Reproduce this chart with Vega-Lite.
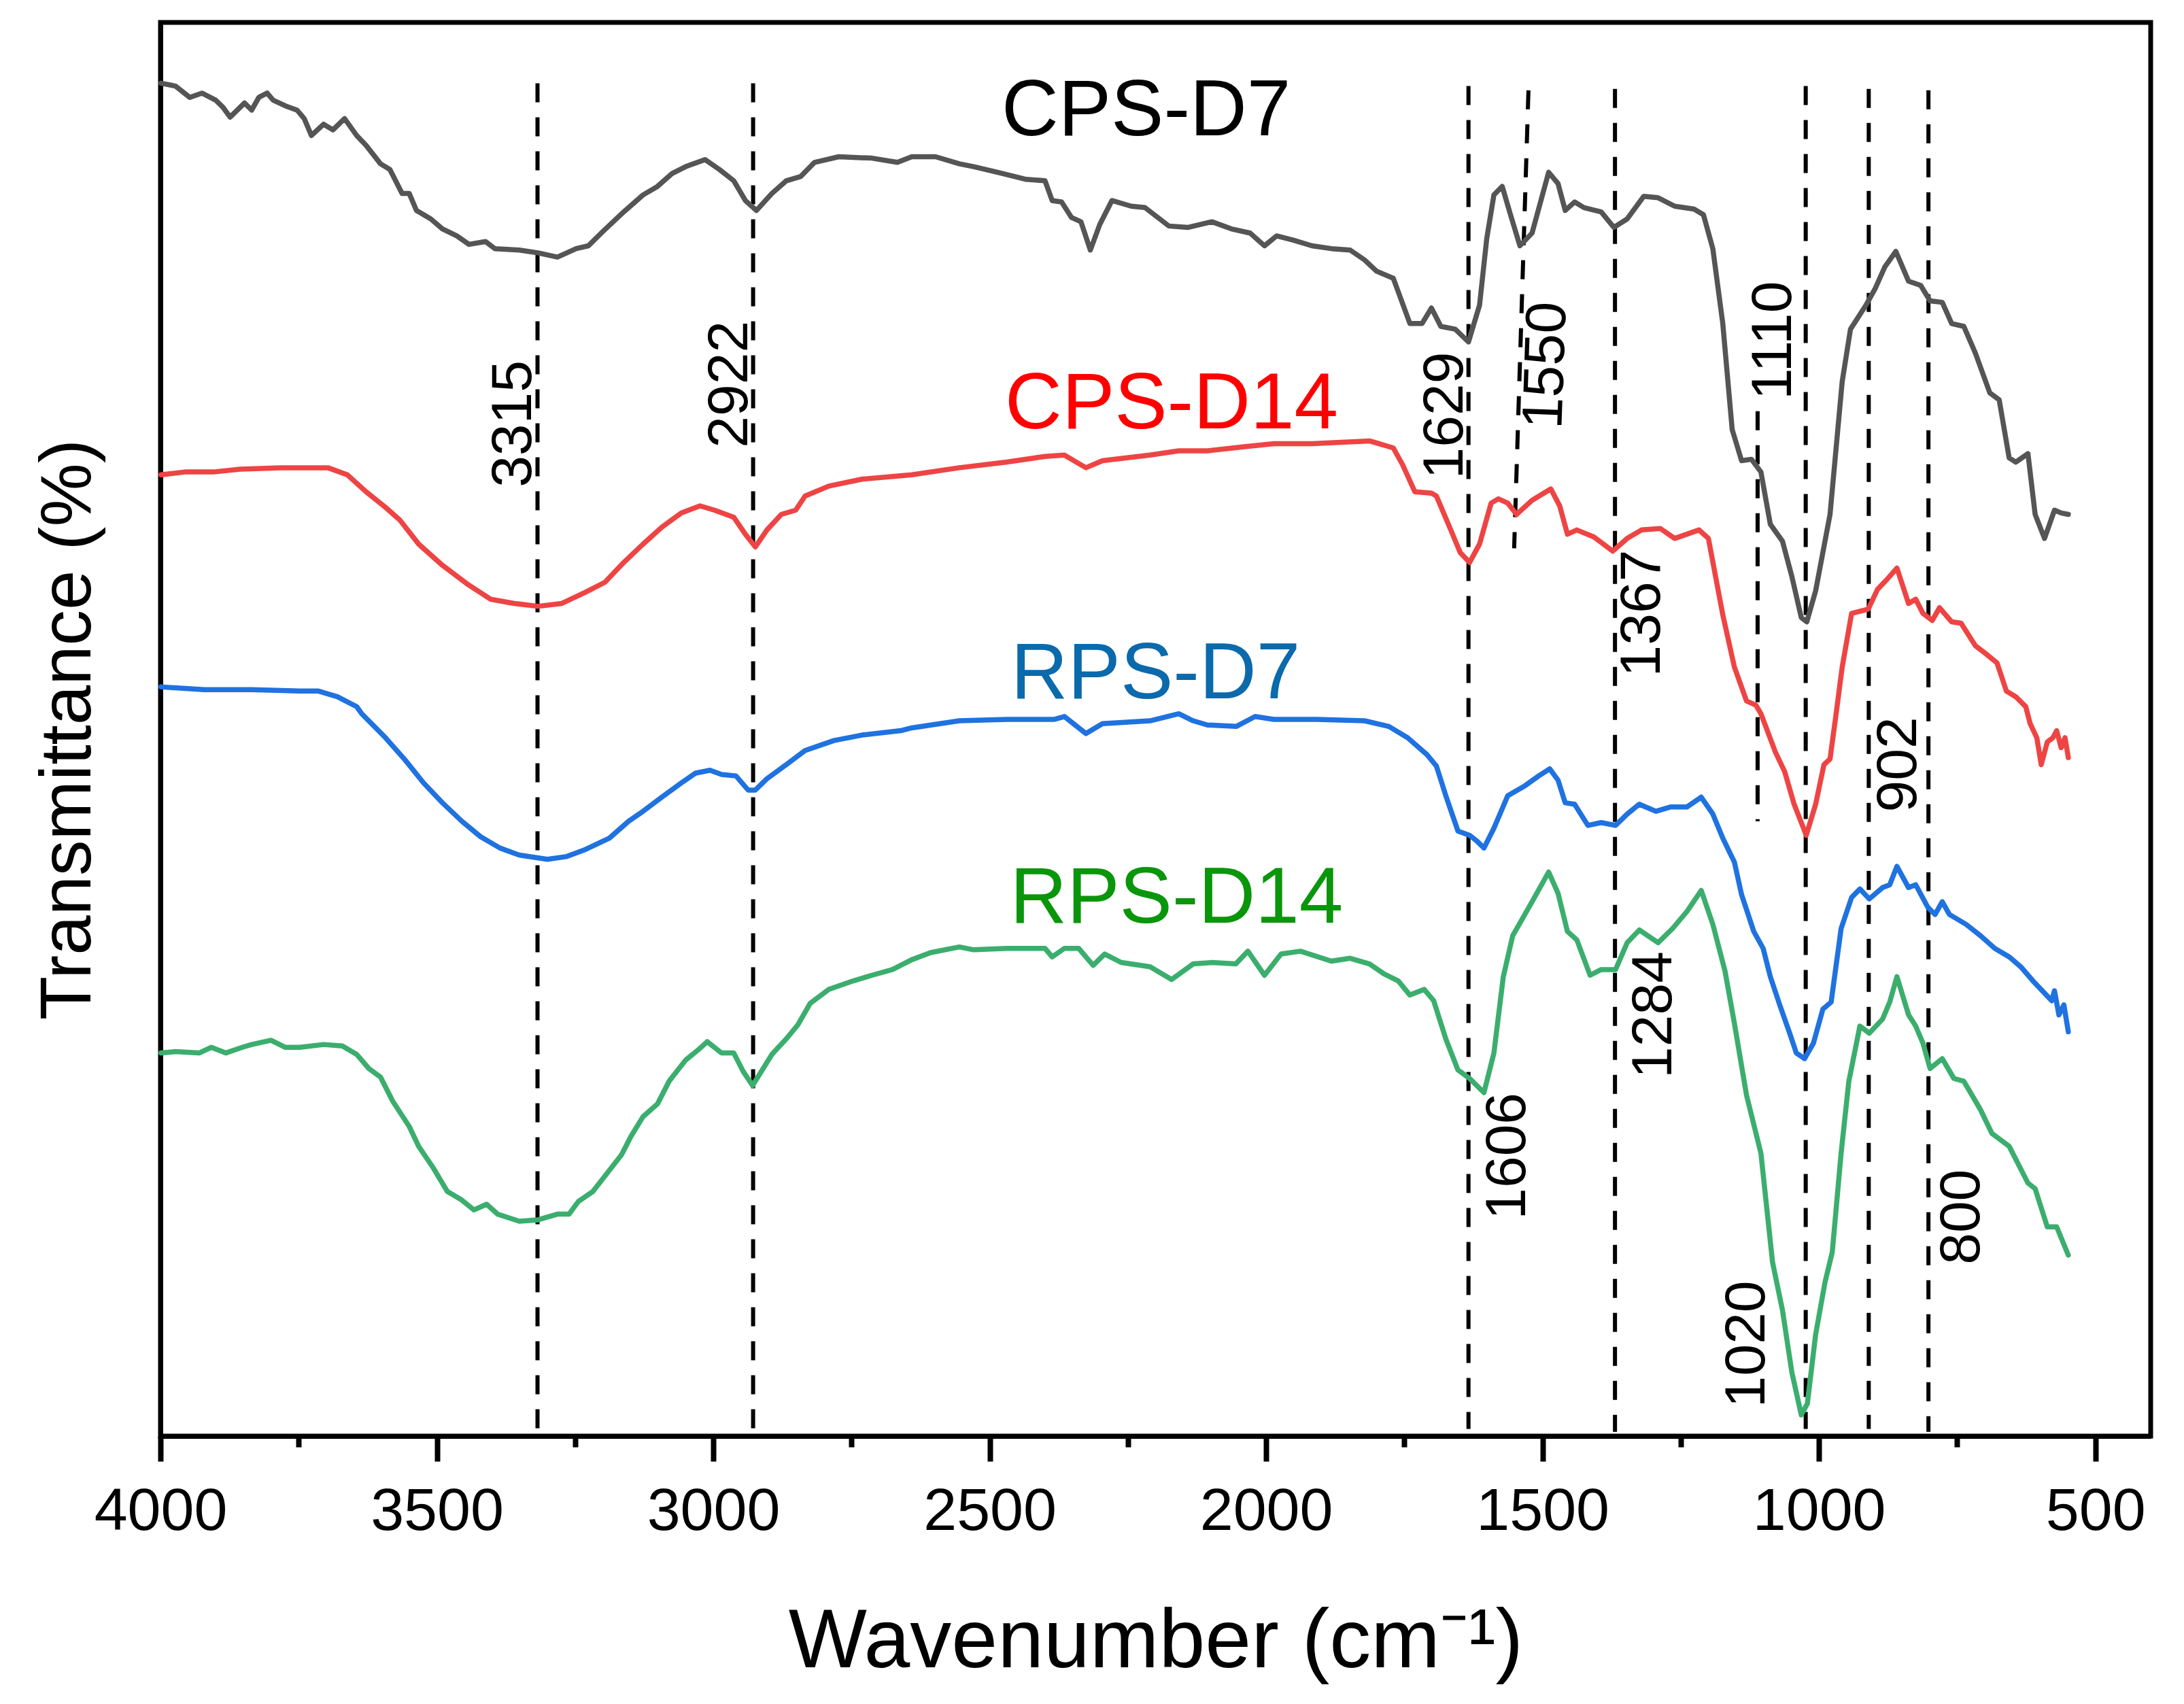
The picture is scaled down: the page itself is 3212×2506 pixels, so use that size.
{
  "$schema": "https://vega.github.io/schema/vega-lite/v6.json",
  "description": "FTIR spectra of CPS and RPS samples",
  "width": 2927,
  "height": 2079,
  "autosize": {"type": "none"},
  "padding": {"left": 236, "top": 33, "right": 49, "bottom": 394},
  "background": "white",
  "config": {
    "font": "Liberation Sans",
    "view": {"stroke": "black", "strokeWidth": 7},
    "axis": {"grid": false, "titleFontWeight": "normal", "labelColor": "black", "titleColor": "black", "domainColor": "black", "tickColor": "black"}
  },
  "datasets": {
    "spectra": [
      {"s":"CPS-D7","w":3999,"t":95.7},{"s":"CPS-D7","w":3973,"t":95.5},{"s":"CPS-D7","w":3947,"t":94.7},{"s":"CPS-D7","w":3925,"t":95.0},{"s":"CPS-D7","w":3900,"t":94.5},{"s":"CPS-D7","w":3887,"t":94.0},{"s":"CPS-D7","w":3874,"t":93.3},{"s":"CPS-D7","w":3848,"t":94.3},{"s":"CPS-D7","w":3835,"t":93.8},{"s":"CPS-D7","w":3822,"t":94.7},{"s":"CPS-D7","w":3807,"t":95.0},{"s":"CPS-D7","w":3796,"t":94.5},{"s":"CPS-D7","w":3774,"t":94.1},{"s":"CPS-D7","w":3753,"t":93.8},{"s":"CPS-D7","w":3740,"t":93.2},{"s":"CPS-D7","w":3727,"t":92.0},{"s":"CPS-D7","w":3705,"t":92.8},{"s":"CPS-D7","w":3688,"t":92.4},{"s":"CPS-D7","w":3667,"t":93.2},{"s":"CPS-D7","w":3645,"t":92.0},{"s":"CPS-D7","w":3628,"t":91.3},{"s":"CPS-D7","w":3602,"t":90.0},{"s":"CPS-D7","w":3585,"t":89.6},{"s":"CPS-D7","w":3563,"t":87.9},{"s":"CPS-D7","w":3550,"t":87.9},{"s":"CPS-D7","w":3537,"t":86.7},{"s":"CPS-D7","w":3511,"t":86.1},{"s":"CPS-D7","w":3490,"t":85.4},{"s":"CPS-D7","w":3464,"t":84.9},{"s":"CPS-D7","w":3442,"t":84.3},{"s":"CPS-D7","w":3412,"t":84.5},{"s":"CPS-D7","w":3395,"t":84.0},{"s":"CPS-D7","w":3351,"t":83.9},{"s":"CPS-D7","w":3317,"t":83.7},{"s":"CPS-D7","w":3282,"t":83.4},{"s":"CPS-D7","w":3248,"t":84.0},{"s":"CPS-D7","w":3226,"t":84.2},{"s":"CPS-D7","w":3200,"t":85.2},{"s":"CPS-D7","w":3162,"t":86.6},{"s":"CPS-D7","w":3127,"t":87.8},{"s":"CPS-D7","w":3101,"t":88.4},{"s":"CPS-D7","w":3075,"t":89.3},{"s":"CPS-D7","w":3050,"t":89.8},{"s":"CPS-D7","w":3015,"t":90.3},{"s":"CPS-D7","w":2989,"t":89.6},{"s":"CPS-D7","w":2963,"t":88.8},{"s":"CPS-D7","w":2942,"t":87.4},{"s":"CPS-D7","w":2922,"t":86.7},{"s":"CPS-D7","w":2894,"t":87.9},{"s":"CPS-D7","w":2868,"t":88.8},{"s":"CPS-D7","w":2842,"t":89.1},{"s":"CPS-D7","w":2817,"t":90.1},{"s":"CPS-D7","w":2773,"t":90.5},{"s":"CPS-D7","w":2713,"t":90.4},{"s":"CPS-D7","w":2667,"t":90.1},{"s":"CPS-D7","w":2641,"t":90.5},{"s":"CPS-D7","w":2598,"t":90.5},{"s":"CPS-D7","w":2555,"t":90.0},{"s":"CPS-D7","w":2529,"t":89.8},{"s":"CPS-D7","w":2486,"t":89.4},{"s":"CPS-D7","w":2434,"t":88.9},{"s":"CPS-D7","w":2400,"t":88.8},{"s":"CPS-D7","w":2387,"t":87.4},{"s":"CPS-D7","w":2370,"t":87.3},{"s":"CPS-D7","w":2352,"t":86.2},{"s":"CPS-D7","w":2335,"t":85.9},{"s":"CPS-D7","w":2318,"t":83.9},{"s":"CPS-D7","w":2301,"t":85.7},{"s":"CPS-D7","w":2279,"t":87.4},{"s":"CPS-D7","w":2244,"t":87.0},{"s":"CPS-D7","w":2219,"t":86.9},{"s":"CPS-D7","w":2176,"t":85.6},{"s":"CPS-D7","w":2141,"t":85.5},{"s":"CPS-D7","w":2098,"t":85.9},{"s":"CPS-D7","w":2063,"t":85.4},{"s":"CPS-D7","w":2029,"t":85.1},{"s":"CPS-D7","w":2003,"t":84.2},{"s":"CPS-D7","w":1981,"t":84.9},{"s":"CPS-D7","w":1951,"t":84.6},{"s":"CPS-D7","w":1917,"t":84.2},{"s":"CPS-D7","w":1882,"t":84.0},{"s":"CPS-D7","w":1848,"t":83.9},{"s":"CPS-D7","w":1822,"t":83.2},{"s":"CPS-D7","w":1800,"t":82.4},{"s":"CPS-D7","w":1770,"t":81.9},{"s":"CPS-D7","w":1740,"t":78.7},{"s":"CPS-D7","w":1718,"t":78.7},{"s":"CPS-D7","w":1701,"t":79.8},{"s":"CPS-D7","w":1684,"t":78.5},{"s":"CPS-D7","w":1658,"t":78.3},{"s":"CPS-D7","w":1634,"t":77.4},{"s":"CPS-D7","w":1614,"t":80.0},{"s":"CPS-D7","w":1601,"t":84.7},{"s":"CPS-D7","w":1588,"t":87.8},{"s":"CPS-D7","w":1573,"t":88.4},{"s":"CPS-D7","w":1558,"t":86.4},{"s":"CPS-D7","w":1541,"t":84.2},{"s":"CPS-D7","w":1519,"t":85.1},{"s":"CPS-D7","w":1489,"t":89.4},{"s":"CPS-D7","w":1472,"t":88.6},{"s":"CPS-D7","w":1459,"t":86.7},{"s":"CPS-D7","w":1442,"t":87.3},{"s":"CPS-D7","w":1425,"t":86.9},{"s":"CPS-D7","w":1394,"t":86.6},{"s":"CPS-D7","w":1371,"t":85.5},{"s":"CPS-D7","w":1347,"t":86.1},{"s":"CPS-D7","w":1317,"t":87.7},{"s":"CPS-D7","w":1291,"t":87.6},{"s":"CPS-D7","w":1261,"t":87.0},{"s":"CPS-D7","w":1226,"t":86.8},{"s":"CPS-D7","w":1209,"t":86.4},{"s":"CPS-D7","w":1192,"t":84.0},{"s":"CPS-D7","w":1174,"t":78.7},{"s":"CPS-D7","w":1157,"t":71.2},{"s":"CPS-D7","w":1140,"t":69.0},{"s":"CPS-D7","w":1122,"t":69.1},{"s":"CPS-D7","w":1105,"t":68.2},{"s":"CPS-D7","w":1088,"t":64.5},{"s":"CPS-D7","w":1066,"t":63.3},{"s":"CPS-D7","w":1049,"t":60.8},{"s":"CPS-D7","w":1032,"t":57.9},{"s":"CPS-D7","w":1022,"t":57.6},{"s":"CPS-D7","w":1006,"t":59.8},{"s":"CPS-D7","w":980,"t":65.2},{"s":"CPS-D7","w":958,"t":74.6},{"s":"CPS-D7","w":943,"t":78.3},{"s":"CPS-D7","w":915,"t":80.0},{"s":"CPS-D7","w":898,"t":81.2},{"s":"CPS-D7","w":881,"t":82.7},{"s":"CPS-D7","w":861,"t":83.8},{"s":"CPS-D7","w":838,"t":81.7},{"s":"CPS-D7","w":816,"t":81.4},{"s":"CPS-D7","w":799,"t":80.3},{"s":"CPS-D7","w":777,"t":80.2},{"s":"CPS-D7","w":760,"t":78.7},{"s":"CPS-D7","w":738,"t":78.5},{"s":"CPS-D7","w":717,"t":76.6},{"s":"CPS-D7","w":691,"t":73.8},{"s":"CPS-D7","w":674,"t":73.3},{"s":"CPS-D7","w":656,"t":69.2},{"s":"CPS-D7","w":644,"t":68.9},{"s":"CPS-D7","w":622,"t":69.5},{"s":"CPS-D7","w":609,"t":65.2},{"s":"CPS-D7","w":592,"t":63.5},{"s":"CPS-D7","w":574,"t":65.5},{"s":"CPS-D7","w":562,"t":65.3},{"s":"CPS-D7","w":549,"t":65.2},

      {"s":"CPS-D14","w":3999,"t":68.0},{"s":"CPS-D14","w":3956,"t":68.2},{"s":"CPS-D14","w":3904,"t":68.2},{"s":"CPS-D14","w":3856,"t":68.4},{"s":"CPS-D14","w":3783,"t":68.5},{"s":"CPS-D14","w":3697,"t":68.5},{"s":"CPS-D14","w":3662,"t":68.0},{"s":"CPS-D14","w":3628,"t":66.8},{"s":"CPS-D14","w":3593,"t":65.7},{"s":"CPS-D14","w":3567,"t":64.8},{"s":"CPS-D14","w":3533,"t":63.1},{"s":"CPS-D14","w":3490,"t":61.6},{"s":"CPS-D14","w":3446,"t":60.3},{"s":"CPS-D14","w":3403,"t":59.2},{"s":"CPS-D14","w":3360,"t":58.9},{"s":"CPS-D14","w":3317,"t":58.7},{"s":"CPS-D14","w":3274,"t":58.9},{"s":"CPS-D14","w":3231,"t":59.7},{"s":"CPS-D14","w":3196,"t":60.4},{"s":"CPS-D14","w":3162,"t":61.8},{"s":"CPS-D14","w":3127,"t":63.1},{"s":"CPS-D14","w":3093,"t":64.3},{"s":"CPS-D14","w":3058,"t":65.3},{"s":"CPS-D14","w":3024,"t":65.8},{"s":"CPS-D14","w":2998,"t":65.5},{"s":"CPS-D14","w":2963,"t":65.0},{"s":"CPS-D14","w":2942,"t":63.8},{"s":"CPS-D14","w":2924,"t":62.9},{"s":"CPS-D14","w":2903,"t":64.1},{"s":"CPS-D14","w":2877,"t":65.2},{"s":"CPS-D14","w":2851,"t":65.5},{"s":"CPS-D14","w":2834,"t":66.5},{"s":"CPS-D14","w":2791,"t":67.2},{"s":"CPS-D14","w":2730,"t":67.7},{"s":"CPS-D14","w":2641,"t":68.0},{"s":"CPS-D14","w":2555,"t":68.5},{"s":"CPS-D14","w":2469,"t":68.9},{"s":"CPS-D14","w":2400,"t":69.3},{"s":"CPS-D14","w":2365,"t":69.4},{"s":"CPS-D14","w":2326,"t":68.5},{"s":"CPS-D14","w":2296,"t":69.0},{"s":"CPS-D14","w":2210,"t":69.4},{"s":"CPS-D14","w":2158,"t":69.7},{"s":"CPS-D14","w":2106,"t":69.7},{"s":"CPS-D14","w":2037,"t":70.0},{"s":"CPS-D14","w":1986,"t":70.2},{"s":"CPS-D14","w":1917,"t":70.2},{"s":"CPS-D14","w":1865,"t":70.3},{"s":"CPS-D14","w":1813,"t":70.4},{"s":"CPS-D14","w":1770,"t":69.9},{"s":"CPS-D14","w":1753,"t":68.7},{"s":"CPS-D14","w":1731,"t":66.8},{"s":"CPS-D14","w":1701,"t":66.7},{"s":"CPS-D14","w":1692,"t":66.5},{"s":"CPS-D14","w":1666,"t":64.1},{"s":"CPS-D14","w":1649,"t":62.5},{"s":"CPS-D14","w":1632,"t":61.8},{"s":"CPS-D14","w":1614,"t":63.1},{"s":"CPS-D14","w":1593,"t":66.0},{"s":"CPS-D14","w":1580,"t":66.3},{"s":"CPS-D14","w":1563,"t":66.0},{"s":"CPS-D14","w":1547,"t":65.2},{"s":"CPS-D14","w":1519,"t":66.2},{"s":"CPS-D14","w":1485,"t":67.0},{"s":"CPS-D14","w":1469,"t":65.8},{"s":"CPS-D14","w":1455,"t":63.8},{"s":"CPS-D14","w":1438,"t":64.1},{"s":"CPS-D14","w":1407,"t":63.6},{"s":"CPS-D14","w":1373,"t":62.6},{"s":"CPS-D14","w":1347,"t":63.5},{"s":"CPS-D14","w":1321,"t":64.1},{"s":"CPS-D14","w":1287,"t":64.2},{"s":"CPS-D14","w":1261,"t":63.5},{"s":"CPS-D14","w":1217,"t":64.1},{"s":"CPS-D14","w":1200,"t":63.5},{"s":"CPS-D14","w":1174,"t":58.1},{"s":"CPS-D14","w":1153,"t":54.4},{"s":"CPS-D14","w":1131,"t":52.0},{"s":"CPS-D14","w":1114,"t":51.7},{"s":"CPS-D14","w":1105,"t":51.1},{"s":"CPS-D14","w":1079,"t":48.4},{"s":"CPS-D14","w":1062,"t":47.0},{"s":"CPS-D14","w":1045,"t":44.7},{"s":"CPS-D14","w":1023,"t":42.5},{"s":"CPS-D14","w":1006,"t":44.7},{"s":"CPS-D14","w":991,"t":47.5},{"s":"CPS-D14","w":980,"t":47.9},{"s":"CPS-D14","w":969,"t":51.1},{"s":"CPS-D14","w":958,"t":54.4},{"s":"CPS-D14","w":941,"t":58.2},{"s":"CPS-D14","w":911,"t":58.5},{"s":"CPS-D14","w":894,"t":59.9},{"s":"CPS-D14","w":877,"t":60.6},{"s":"CPS-D14","w":859,"t":61.4},{"s":"CPS-D14","w":838,"t":58.9},{"s":"CPS-D14","w":825,"t":59.2},{"s":"CPS-D14","w":812,"t":58.2},{"s":"CPS-D14","w":795,"t":57.7},{"s":"CPS-D14","w":782,"t":58.6},{"s":"CPS-D14","w":760,"t":57.6},{"s":"CPS-D14","w":743,"t":57.5},{"s":"CPS-D14","w":717,"t":55.9},{"s":"CPS-D14","w":700,"t":55.4},{"s":"CPS-D14","w":678,"t":54.7},{"s":"CPS-D14","w":661,"t":52.7},{"s":"CPS-D14","w":644,"t":52.3},{"s":"CPS-D14","w":626,"t":51.6},{"s":"CPS-D14","w":618,"t":50.4},{"s":"CPS-D14","w":606,"t":49.4},{"s":"CPS-D14","w":598,"t":47.5},{"s":"CPS-D14","w":587,"t":49.1},{"s":"CPS-D14","w":577,"t":49.4},{"s":"CPS-D14","w":570,"t":49.9},{"s":"CPS-D14","w":562,"t":48.7},{"s":"CPS-D14","w":555,"t":49.4},{"s":"CPS-D14","w":549,"t":48.0},

      {"s":"RPS-D7","w":3999,"t":53.0},{"s":"RPS-D7","w":3921,"t":52.8},{"s":"RPS-D7","w":3835,"t":52.8},{"s":"RPS-D7","w":3748,"t":52.7},{"s":"RPS-D7","w":3714,"t":52.7},{"s":"RPS-D7","w":3680,"t":52.3},{"s":"RPS-D7","w":3645,"t":51.6},{"s":"RPS-D7","w":3636,"t":51.1},{"s":"RPS-D7","w":3593,"t":49.4},{"s":"RPS-D7","w":3559,"t":47.9},{"s":"RPS-D7","w":3524,"t":46.2},{"s":"RPS-D7","w":3490,"t":44.8},{"s":"RPS-D7","w":3455,"t":43.5},{"s":"RPS-D7","w":3421,"t":42.4},{"s":"RPS-D7","w":3386,"t":41.6},{"s":"RPS-D7","w":3351,"t":41.1},{"s":"RPS-D7","w":3300,"t":40.8},{"s":"RPS-D7","w":3265,"t":41.0},{"s":"RPS-D7","w":3231,"t":41.5},{"s":"RPS-D7","w":3188,"t":42.3},{"s":"RPS-D7","w":3153,"t":43.5},{"s":"RPS-D7","w":3127,"t":44.2},{"s":"RPS-D7","w":3093,"t":45.2},{"s":"RPS-D7","w":3058,"t":46.2},{"s":"RPS-D7","w":3032,"t":46.9},{"s":"RPS-D7","w":3006,"t":47.1},{"s":"RPS-D7","w":2985,"t":46.8},{"s":"RPS-D7","w":2959,"t":46.7},{"s":"RPS-D7","w":2937,"t":45.7},{"s":"RPS-D7","w":2924,"t":45.7},{"s":"RPS-D7","w":2903,"t":46.5},{"s":"RPS-D7","w":2868,"t":47.5},{"s":"RPS-D7","w":2834,"t":48.5},{"s":"RPS-D7","w":2782,"t":49.2},{"s":"RPS-D7","w":2730,"t":49.6},{"s":"RPS-D7","w":2661,"t":49.9},{"s":"RPS-D7","w":2641,"t":50.1},{"s":"RPS-D7","w":2555,"t":50.6},{"s":"RPS-D7","w":2469,"t":50.7},{"s":"RPS-D7","w":2383,"t":50.7},{"s":"RPS-D7","w":2365,"t":50.9},{"s":"RPS-D7","w":2326,"t":49.7},{"s":"RPS-D7","w":2296,"t":50.4},{"s":"RPS-D7","w":2210,"t":50.6},{"s":"RPS-D7","w":2158,"t":51.1},{"s":"RPS-D7","w":2132,"t":50.6},{"s":"RPS-D7","w":2106,"t":50.3},{"s":"RPS-D7","w":2054,"t":50.2},{"s":"RPS-D7","w":2020,"t":50.9},{"s":"RPS-D7","w":1986,"t":50.7},{"s":"RPS-D7","w":1908,"t":50.7},{"s":"RPS-D7","w":1822,"t":50.6},{"s":"RPS-D7","w":1778,"t":50.2},{"s":"RPS-D7","w":1744,"t":49.4},{"s":"RPS-D7","w":1709,"t":48.2},{"s":"RPS-D7","w":1692,"t":47.4},{"s":"RPS-D7","w":1675,"t":45.3},{"s":"RPS-D7","w":1653,"t":42.8},{"s":"RPS-D7","w":1632,"t":42.5},{"s":"RPS-D7","w":1619,"t":42.1},{"s":"RPS-D7","w":1606,"t":41.6},{"s":"RPS-D7","w":1588,"t":43.0},{"s":"RPS-D7","w":1563,"t":45.3},{"s":"RPS-D7","w":1532,"t":46.0},{"s":"RPS-D7","w":1507,"t":46.7},{"s":"RPS-D7","w":1487,"t":47.2},{"s":"RPS-D7","w":1472,"t":46.4},{"s":"RPS-D7","w":1459,"t":44.8},{"s":"RPS-D7","w":1442,"t":44.7},{"s":"RPS-D7","w":1418,"t":43.2},{"s":"RPS-D7","w":1394,"t":43.4},{"s":"RPS-D7","w":1368,"t":43.2},{"s":"RPS-D7","w":1347,"t":44.0},{"s":"RPS-D7","w":1325,"t":44.7},{"s":"RPS-D7","w":1295,"t":44.2},{"s":"RPS-D7","w":1269,"t":44.5},{"s":"RPS-D7","w":1239,"t":44.5},{"s":"RPS-D7","w":1213,"t":45.2},{"s":"RPS-D7","w":1192,"t":44.0},{"s":"RPS-D7","w":1174,"t":42.3},{"s":"RPS-D7","w":1153,"t":40.6},{"s":"RPS-D7","w":1140,"t":38.3},{"s":"RPS-D7","w":1118,"t":35.7},{"s":"RPS-D7","w":1101,"t":34.5},{"s":"RPS-D7","w":1088,"t":32.5},{"s":"RPS-D7","w":1071,"t":30.5},{"s":"RPS-D7","w":1053,"t":28.5},{"s":"RPS-D7","w":1041,"t":27.1},{"s":"RPS-D7","w":1026,"t":26.7},{"s":"RPS-D7","w":1010,"t":27.8},{"s":"RPS-D7","w":993,"t":30.2},{"s":"RPS-D7","w":978,"t":30.7},{"s":"RPS-D7","w":960,"t":35.9},{"s":"RPS-D7","w":941,"t":38.1},{"s":"RPS-D7","w":926,"t":38.7},{"s":"RPS-D7","w":909,"t":38.0},{"s":"RPS-D7","w":885,"t":38.8},{"s":"RPS-D7","w":872,"t":39.0},{"s":"RPS-D7","w":859,"t":40.3},{"s":"RPS-D7","w":838,"t":38.8},{"s":"RPS-D7","w":825,"t":39.0},{"s":"RPS-D7","w":803,"t":37.4},{"s":"RPS-D7","w":790,"t":36.9},{"s":"RPS-D7","w":777,"t":37.8},{"s":"RPS-D7","w":764,"t":36.9},{"s":"RPS-D7","w":734,"t":36.2},{"s":"RPS-D7","w":708,"t":35.4},{"s":"RPS-D7","w":682,"t":34.5},{"s":"RPS-D7","w":656,"t":33.9},{"s":"RPS-D7","w":635,"t":33.2},{"s":"RPS-D7","w":613,"t":32.2},{"s":"RPS-D7","w":596,"t":31.5},{"s":"RPS-D7","w":579,"t":30.8},{"s":"RPS-D7","w":574,"t":31.5},{"s":"RPS-D7","w":566,"t":29.8},{"s":"RPS-D7","w":557,"t":30.5},{"s":"RPS-D7","w":549,"t":28.6},

      {"s":"RPS-D14","w":3999,"t":27.1},{"s":"RPS-D14","w":3973,"t":27.2},{"s":"RPS-D14","w":3930,"t":27.1},{"s":"RPS-D14","w":3908,"t":27.5},{"s":"RPS-D14","w":3882,"t":27.1},{"s":"RPS-D14","w":3852,"t":27.5},{"s":"RPS-D14","w":3835,"t":27.7},{"s":"RPS-D14","w":3800,"t":28.0},{"s":"RPS-D14","w":3774,"t":27.5},{"s":"RPS-D14","w":3748,"t":27.5},{"s":"RPS-D14","w":3705,"t":27.7},{"s":"RPS-D14","w":3671,"t":27.6},{"s":"RPS-D14","w":3645,"t":27.0},{"s":"RPS-D14","w":3623,"t":26.0},{"s":"RPS-D14","w":3602,"t":25.4},{"s":"RPS-D14","w":3580,"t":23.7},{"s":"RPS-D14","w":3550,"t":21.9},{"s":"RPS-D14","w":3533,"t":20.5},{"s":"RPS-D14","w":3507,"t":19.0},{"s":"RPS-D14","w":3481,"t":17.3},{"s":"RPS-D14","w":3455,"t":16.7},{"s":"RPS-D14","w":3433,"t":16.0},{"s":"RPS-D14","w":3410,"t":16.4},{"s":"RPS-D14","w":3390,"t":15.7},{"s":"RPS-D14","w":3351,"t":15.2},{"s":"RPS-D14","w":3317,"t":15.3},{"s":"RPS-D14","w":3282,"t":15.7},{"s":"RPS-D14","w":3261,"t":15.7},{"s":"RPS-D14","w":3244,"t":16.6},{"s":"RPS-D14","w":3218,"t":17.3},{"s":"RPS-D14","w":3196,"t":18.4},{"s":"RPS-D14","w":3166,"t":19.9},{"s":"RPS-D14","w":3149,"t":21.2},{"s":"RPS-D14","w":3127,"t":22.6},{"s":"RPS-D14","w":3101,"t":23.5},{"s":"RPS-D14","w":3080,"t":25.1},{"s":"RPS-D14","w":3050,"t":26.6},{"s":"RPS-D14","w":3028,"t":27.3},{"s":"RPS-D14","w":3011,"t":27.9},{"s":"RPS-D14","w":2985,"t":27.1},{"s":"RPS-D14","w":2963,"t":27.1},{"s":"RPS-D14","w":2946,"t":25.8},{"s":"RPS-D14","w":2929,"t":24.8},{"s":"RPS-D14","w":2894,"t":27.0},{"s":"RPS-D14","w":2868,"t":28.1},{"s":"RPS-D14","w":2847,"t":29.1},{"s":"RPS-D14","w":2825,"t":30.6},{"s":"RPS-D14","w":2791,"t":31.6},{"s":"RPS-D14","w":2747,"t":32.2},{"s":"RPS-D14","w":2713,"t":32.6},{"s":"RPS-D14","w":2676,"t":33.0},{"s":"RPS-D14","w":2641,"t":33.7},{"s":"RPS-D14","w":2607,"t":34.2},{"s":"RPS-D14","w":2555,"t":34.6},{"s":"RPS-D14","w":2529,"t":34.4},{"s":"RPS-D14","w":2469,"t":34.5},{"s":"RPS-D14","w":2400,"t":34.5},{"s":"RPS-D14","w":2387,"t":33.9},{"s":"RPS-D14","w":2365,"t":34.5},{"s":"RPS-D14","w":2339,"t":34.5},{"s":"RPS-D14","w":2313,"t":33.3},{"s":"RPS-D14","w":2292,"t":34.1},{"s":"RPS-D14","w":2262,"t":33.5},{"s":"RPS-D14","w":2210,"t":33.2},{"s":"RPS-D14","w":2171,"t":32.3},{"s":"RPS-D14","w":2132,"t":33.4},{"s":"RPS-D14","w":2098,"t":33.5},{"s":"RPS-D14","w":2055,"t":33.4},{"s":"RPS-D14","w":2033,"t":34.3},{"s":"RPS-D14","w":2003,"t":32.6},{"s":"RPS-D14","w":1973,"t":34.1},{"s":"RPS-D14","w":1938,"t":34.3},{"s":"RPS-D14","w":1882,"t":33.6},{"s":"RPS-D14","w":1848,"t":33.8},{"s":"RPS-D14","w":1813,"t":33.4},{"s":"RPS-D14","w":1787,"t":32.7},{"s":"RPS-D14","w":1761,"t":32.2},{"s":"RPS-D14","w":1740,"t":31.2},{"s":"RPS-D14","w":1714,"t":31.6},{"s":"RPS-D14","w":1697,"t":30.8},{"s":"RPS-D14","w":1675,"t":28.1},{"s":"RPS-D14","w":1653,"t":25.9},{"s":"RPS-D14","w":1632,"t":25.3},{"s":"RPS-D14","w":1606,"t":24.3},{"s":"RPS-D14","w":1588,"t":27.1},{"s":"RPS-D14","w":1571,"t":32.5},{"s":"RPS-D14","w":1554,"t":35.4},{"s":"RPS-D14","w":1519,"t":37.8},{"s":"RPS-D14","w":1489,"t":39.9},{"s":"RPS-D14","w":1472,"t":38.4},{"s":"RPS-D14","w":1455,"t":35.7},{"s":"RPS-D14","w":1438,"t":35.1},{"s":"RPS-D14","w":1414,"t":32.6},{"s":"RPS-D14","w":1394,"t":33.0},{"s":"RPS-D14","w":1368,"t":33.0},{"s":"RPS-D14","w":1347,"t":34.9},{"s":"RPS-D14","w":1325,"t":35.8},{"s":"RPS-D14","w":1291,"t":34.9},{"s":"RPS-D14","w":1265,"t":35.9},{"s":"RPS-D14","w":1239,"t":37.1},{"s":"RPS-D14","w":1213,"t":38.6},{"s":"RPS-D14","w":1192,"t":36.2},{"s":"RPS-D14","w":1170,"t":32.9},{"s":"RPS-D14","w":1153,"t":29.2},{"s":"RPS-D14","w":1131,"t":24.1},{"s":"RPS-D14","w":1105,"t":20.0},{"s":"RPS-D14","w":1084,"t":12.3},{"s":"RPS-D14","w":1066,"t":8.9},{"s":"RPS-D14","w":1049,"t":4.5},{"s":"RPS-D14","w":1032,"t":1.5},{"s":"RPS-D14","w":1021,"t":2.3},{"s":"RPS-D14","w":1006,"t":7.2},{"s":"RPS-D14","w":989,"t":10.9},{"s":"RPS-D14","w":976,"t":13.0},{"s":"RPS-D14","w":960,"t":20.0},{"s":"RPS-D14","w":946,"t":25.1},{"s":"RPS-D14","w":926,"t":29.0},{"s":"RPS-D14","w":909,"t":28.5},{"s":"RPS-D14","w":885,"t":29.5},{"s":"RPS-D14","w":872,"t":30.7},{"s":"RPS-D14","w":859,"t":32.5},{"s":"RPS-D14","w":838,"t":29.8},{"s":"RPS-D14","w":825,"t":29.0},{"s":"RPS-D14","w":812,"t":27.8},{"s":"RPS-D14","w":799,"t":26.0},{"s":"RPS-D14","w":777,"t":26.7},{"s":"RPS-D14","w":756,"t":25.3},{"s":"RPS-D14","w":738,"t":25.1},{"s":"RPS-D14","w":708,"t":23.1},{"s":"RPS-D14","w":687,"t":21.4},{"s":"RPS-D14","w":656,"t":20.5},{"s":"RPS-D14","w":622,"t":17.9},{"s":"RPS-D14","w":609,"t":17.5},{"s":"RPS-D14","w":587,"t":14.8},{"s":"RPS-D14","w":570,"t":14.8},{"s":"RPS-D14","w":549,"t":12.8}
    ],
    "guides": [
      {"w": 3318, "w2": 3318, "t": 95.7, "t2": 0.5},
      {"w": 2928, "w2": 2928, "t": 95.7, "t2": 0.5},
      {"w": 1634, "w2": 1634, "t": 95.5, "t2": 0.5},
      {"w": 1525.5, "w2": 1551.4, "t": 95.2, "t2": 62.8},
      {"w": 1369, "w2": 1369, "t": 95.3, "t2": 0.3},
      {"w": 1111, "w2": 1111, "t": 72.5, "t2": 43.5},
      {"w": 1024, "w2": 1024, "t": 95.5, "t2": 0.5},
      {"w": 910, "w2": 910, "t": 95.3, "t2": 0.5},
      {"w": 802, "w2": 802, "t": 95.2, "t2": 0.3}
    ],
    "peaks": [
      {"label": "3315", "w": 3330, "t": 71.6},
      {"label": "2922", "w": 2939, "t": 74.4},
      {"label": "1629", "w": 1645, "t": 72.2},
      {"label": "1367", "w": 1288, "t": 58.2},
      {"label": "1284", "w": 1267, "t": 29.8},
      {"label": "1606", "w": 1532, "t": 19.8},
      {"label": "1110", "w": 1051, "t": 77.5},
      {"label": "1020", "w": 1098, "t": 6.5},
      {"label": "902", "w": 824, "t": 47.5},
      {"label": "800", "w": 710, "t": 15.5}
    ],
    "tilted": [
      {"label": "1550", "w": 1462, "t": 75.7}
    ],
    "names": [
      {"s": "CPS-D7", "w": 2217, "t": 92.0},
      {"s": "CPS-D14", "w": 2171, "t": 71.3},
      {"s": "RPS-D7", "w": 2200, "t": 52.2},
      {"s": "RPS-D14", "w": 2162, "t": 36.3}
    ]
  },
  "resolve": {"scale": {"color": "independent"}, "axis": {"x": "independent"}},
  "layer": [
    {
      "data": {"name": "guides"},
      "mark": {"type": "rule", "color": "black", "strokeWidth": 6, "strokeDash": [28, 22]},
      "encoding": {
        "x": {
          "field": "w", "type": "quantitative",
          "scale": {"domain": [4000, 400], "nice": false, "zero": false},
          "axis": {
            "orient": "bottom", "values": [3750, 3250, 2750, 2250, 1750, 1250, 750],
            "labels": false, "domain": false, "title": null,
            "tickSize": 16, "tickWidth": 8
          }
        },
        "x2": {"field": "w2"},
        "y": {
          "field": "t", "type": "quantitative",
          "scale": {"domain": [0, 100], "nice": false, "zero": false},
          "axis": {
            "title": "Transmittance (%)", "labels": false, "ticks": false,
            "domainWidth": 7, "titleFont": "Liberation Sans", "titleFontSize": 105,
            "titlePadding": 82
          }
        },
        "y2": {"field": "t2"}
      }
    },
    {
      "data": {"name": "spectra"},
      "mark": {"type": "line", "strokeWidth": 7.5, "strokeJoin": "round", "strokeCap": "round"},
      "encoding": {
        "x": {
          "field": "w", "type": "quantitative",
          "axis": {
            "orient": "bottom",
            "values": [4000, 3500, 3000, 2500, 2000, 1500, 1000, 500],
            "format": "d",
            "title": "Wavenumber (cm⁻¹)",
            "labelFont": "Liberation Sans", "labelFontSize": 88, "labelPadding": 30,
            "labelFlush": false, "labelOverlap": false, "labelLimit": 1000,
            "tickSize": 37, "tickWidth": 8, "domainWidth": 7,
            "titleFont": "Liberation Sans", "titleFontSize": 122, "titlePadding": 88
          }
        },
        "y": {"field": "t", "type": "quantitative"},
        "color": {
          "field": "s", "type": "nominal", "legend": null,
          "scale": {"domain": ["CPS-D7", "CPS-D14", "RPS-D7", "RPS-D14"], "range": ["#555555", "#EE4444", "#1F72E0", "#3BAE6E"]}
        }
      }
    },
    {
      "data": {"name": "peaks"},
      "mark": {"type": "text", "angle": 270, "align": "center", "baseline": "alphabetic", "fontSize": 84, "font": "Liberation Sans", "color": "black"},
      "encoding": {
        "x": {"field": "w", "type": "quantitative", "axis": null},
        "y": {"field": "t", "type": "quantitative"},
        "text": {"field": "label"}
      }
    },
    {
      "data": {"name": "tilted"},
      "mark": {"type": "text", "angle": 272, "align": "center", "baseline": "alphabetic", "fontSize": 84, "font": "Liberation Sans", "color": "black"},
      "encoding": {
        "x": {"field": "w", "type": "quantitative", "axis": null},
        "y": {"field": "t", "type": "quantitative"},
        "text": {"field": "label"}
      }
    },
    {
      "data": {"name": "names"},
      "mark": {"type": "text", "align": "center", "baseline": "alphabetic", "fontSize": 116, "font": "Liberation Sans"},
      "encoding": {
        "x": {"field": "w", "type": "quantitative", "axis": null},
        "y": {"field": "t", "type": "quantitative"},
        "text": {"field": "s"},
        "color": {
          "field": "s", "type": "nominal", "legend": null,
          "scale": {"domain": ["CPS-D7", "CPS-D14", "RPS-D7", "RPS-D14"], "range": ["#000000", "#FF0000", "#0A6AAC", "#0A960A"]}
        }
      }
    }
  ]
}
